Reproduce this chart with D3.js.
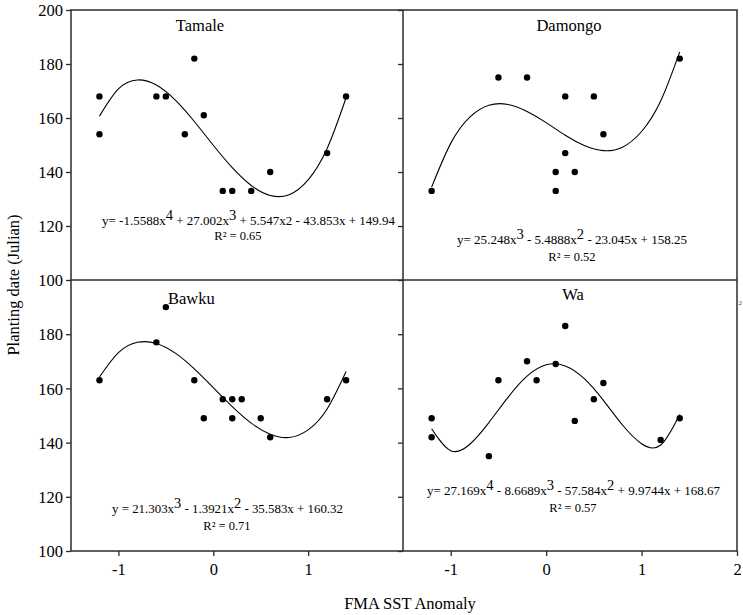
<!DOCTYPE html>
<html><head><meta charset="utf-8">
<script src="https://cdn.jsdelivr.net/npm/d3@7"></script>
<style>
body{margin:0;background:#fff}
text{font-family:"Liberation Serif","Times New Roman",serif;fill:#000}
</style>
</head><body><svg id="c" width="743" height="615"></svg>
<script>
// ---------- data ----------
const panelNames = ["Tamale", "Damongo", "Bawku", "Wa"];

const tamaleX = [-1.2, -1.2, -0.6, -0.5, -0.3, -0.2, -0.1, 0.1, 0.2, 0.4, 0.6, 1.2, 1.4];
const tamaleY = [168, 154, 168, 168, 154, 182, 161, 133, 133, 133, 140, 147, 168];

const damongoX = [-1.2, -0.5, -0.2, 0.1, 0.1, 0.2, 0.2, 0.3, 0.5, 0.6, 1.4];
const damongoY = [133, 175, 175, 140, 133, 168, 147, 140, 168, 154, 182];

const bawkuX = [-1.2, -0.6, -0.5, -0.2, -0.1, 0.1, 0.2, 0.2, 0.3, 0.5, 0.6, 1.2, 1.4];
const bawkuY = [163, 177, 190, 163, 149, 156, 156, 149, 156, 149, 142, 156, 163];

const waX = [-1.2, -1.2, -0.6, -0.5, -0.2, -0.1, 0.1, 0.2, 0.3, 0.5, 0.6, 1.2, 1.4];
const waY = [149, 142, 135, 163, 170, 163, 169, 183, 148, 156, 162, 141, 149];

// fitted trend lines
const fitX = [-1.2, -1.0, -0.8, -0.6, -0.4, -0.2, 0, 0.2, 0.4, 0.6, 0.8, 1.0, 1.2, 1.4];
const tamaleFit  = [160.7, 170.8, 174.1, 172.2, 166.6, 158.7, 149.9, 141.6, 135.0, 131.3, 131.6, 137.1, 148.7, 167.5];
const damongoFit = [134.4, 150.6, 160.3, 164.7, 165.0, 162.4, 158.3, 153.6, 149.8, 147.9, 149.2, 155.0, 166.3, 184.5];
const bawkuFit   = [164.2, 173.2, 177.0, 176.6, 173.0, 167.2, 160.3, 153.3, 147.2, 143.1, 141.9, 144.7, 152.4, 166.2];
const waFit      = [145.1, 137.0, 139.4, 147.4, 156.7, 164.5, 168.7, 168.3, 163.6, 155.6, 146.5, 139.6, 139.1, 150.4];

const tamaleEq  = ["y= -1.5588x", "^4", " + 27.002x", "^3", " + 5.547x2 - 43.853x + 149.94"];
const damongoEq = ["y= 25.248x", "^3", " - 5.4888x", "^2", " - 23.045x + 158.25"];
const bawkuEq   = ["y = 21.303x", "^3", " - 1.3921x", "^2", " - 35.583x + 160.32"];
const waEq      = ["y= 27.169x", "^4", " - 8.6689x", "^3", " - 57.584x", "^2", " + 9.9744x + 168.67"];
const r2Labels  = ["R² = 0.65", "R² = 0.52", "R² = 0.71", "R² = 0.57"];

const xTicksLeft  = [-1, 0, 1];
const xTicksRight = [-1, 0, 1, 2];
const yTicksTop    = [100, 120, 140, 160, 180, 200];
const yTicksBottom = [100, 120, 140, 160, 180];
const yLabel = "Planting date (Julian)";
const xLabel = "FMA SST Anomaly";

// ---------- layout ----------
const svg = d3.select("#c");
const L = 71, M = 403, R = 737, T = 10, H = 280, B = 551;
const axisColor = "#2b2b2b";
const plainNum = d => String(d);

const panels = [
  {name: panelNames[0], xs: tamaleX, ys: tamaleY, fit: tamaleFit, eq: tamaleEq, r2: r2Labels[0],
   x0: L, x1: M, y0: T, y1: H, title: {x: 200, y: 31, anchor: "middle"},
   eqPos: {x: 102, y: 225, w: 293}, r2Pos: {x: 238, y: 240}},
  {name: panelNames[1], xs: damongoX, ys: damongoY, fit: damongoFit, eq: damongoEq, r2: r2Labels[1],
   x0: M, x1: R, y0: T, y1: H, title: {x: 569, y: 31, anchor: "middle"},
   eqPos: {x: 457, y: 244, w: 230}, r2Pos: {x: 572, y: 261}},
  {name: panelNames[2], xs: bawkuX, ys: bawkuY, fit: bawkuFit, eq: bawkuEq, r2: r2Labels[2],
   x0: L, x1: M, y0: H, y1: B, title: {x: 168, y: 304, anchor: "start"},
   eqPos: {x: 112, y: 513, w: 231}, r2Pos: {x: 227, y: 530}},
  {name: panelNames[3], xs: waX, ys: waY, fit: waFit, eq: waEq, r2: r2Labels[3],
   x0: M, x1: R, y0: H, y1: B, title: {x: 573, y: 300, anchor: "middle"},
   eqPos: {x: 427, y: 495, w: 293}, r2Pos: {x: 573, y: 512}}
];

panels.forEach((p) => {
  const x = d3.scaleLinear().domain([-1.5, 2]).range([p.x0, p.x1]);
  const y = d3.scaleLinear().domain([100, 200]).range([p.y1, p.y0]);
  const g = svg.append("g");

  const isLeft = p.x0 === L;
  const isTop = p.y0 === T;
  const yAx = d3.axisLeft(y).tickValues(isTop ? yTicksTop : yTicksBottom).tickSize(5).tickSizeOuter(0)
    .tickFormat(isLeft ? plainNum : () => "");
  const ya = g.append("g").attr("transform", `translate(${p.x0},0)`).call(yAx);
  ya.select(".domain").remove();
  ya.selectAll("line").attr("stroke", axisColor).attr("stroke-width", 1.3);
  ya.selectAll("text").attr("font-size", 16.5).attr("font-family", "Liberation Serif").attr("x", -8).attr("dy", "0.35em");

  if (!isTop) {
    const xAx = d3.axisBottom(x).tickValues(isLeft ? xTicksLeft : xTicksRight).tickSize(5).tickSizeOuter(0)
      .tickFormat(plainNum);
    const xa = g.append("g").attr("transform", `translate(0,${p.y1})`).call(xAx);
    xa.select(".domain").remove();
    xa.selectAll("line").attr("stroke", axisColor).attr("stroke-width", 1.3);
    xa.selectAll("text").attr("font-size", 16.5).attr("font-family", "Liberation Serif").attr("y", 12);
  }

  const line = d3.line().x((d, j) => x(fitX[j])).y(d => y(d)).curve(d3.curveNatural);
  g.append("path").attr("d", line(p.fit)).attr("fill", "none").attr("stroke", "#000").attr("stroke-width", 1.1);

  g.selectAll("circle.pt").data(p.xs.map((v, j) => [v, p.ys[j]])).join("circle")
    .attr("class", "pt").attr("cx", d => x(d[0])).attr("cy", d => y(d[1])).attr("r", 3.2).attr("fill", "#000");

  g.append("text").attr("x", p.title.x).attr("y", p.title.y).attr("text-anchor", p.title.anchor)
    .attr("font-size", 16.5).text(p.name);

  const et = g.append("text").attr("x", p.eqPos.x).attr("y", p.eqPos.y).attr("font-size", 12.5)
    .attr("textLength", p.eqPos.w).attr("lengthAdjust", "spacingAndGlyphs");
  let raised = false;
  p.eq.forEach(seg => {
    if (seg.startsWith("^")) {
      et.append("tspan").attr("dy", -5).attr("font-size", 14).text(seg.slice(1));
      raised = true;
    } else {
      et.append("tspan").attr("dy", raised ? 5 : 0).text(seg);
      raised = false;
    }
  });
  g.append("text").attr("x", p.r2Pos.x).attr("y", p.r2Pos.y).attr("text-anchor", "middle")
    .attr("font-size", 12.5).text(p.r2);
});

const frame = svg.append("g").attr("stroke", axisColor).attr("stroke-width", 1.5).attr("fill", "none");
frame.append("rect").attr("x", L).attr("y", T).attr("width", R - L).attr("height", B - T);
frame.append("line").attr("x1", M).attr("x2", M).attr("y1", T).attr("y2", B);
frame.append("line").attr("x1", L).attr("x2", R).attr("y1", H).attr("y2", H);

svg.append("text").attr("transform", "translate(19,285) rotate(-90)").attr("text-anchor", "middle")
  .attr("font-size", 16.5).text(yLabel);
svg.append("text").attr("x", 410).attr("y", 609).attr("text-anchor", "middle")
  .attr("font-size", 16.5).text(xLabel);
svg.append("text").attr("x", 738.5).attr("y", 305).attr("font-size", 7).style("fill", "#1a3f8a").text("2");
</script>
</body></html>
